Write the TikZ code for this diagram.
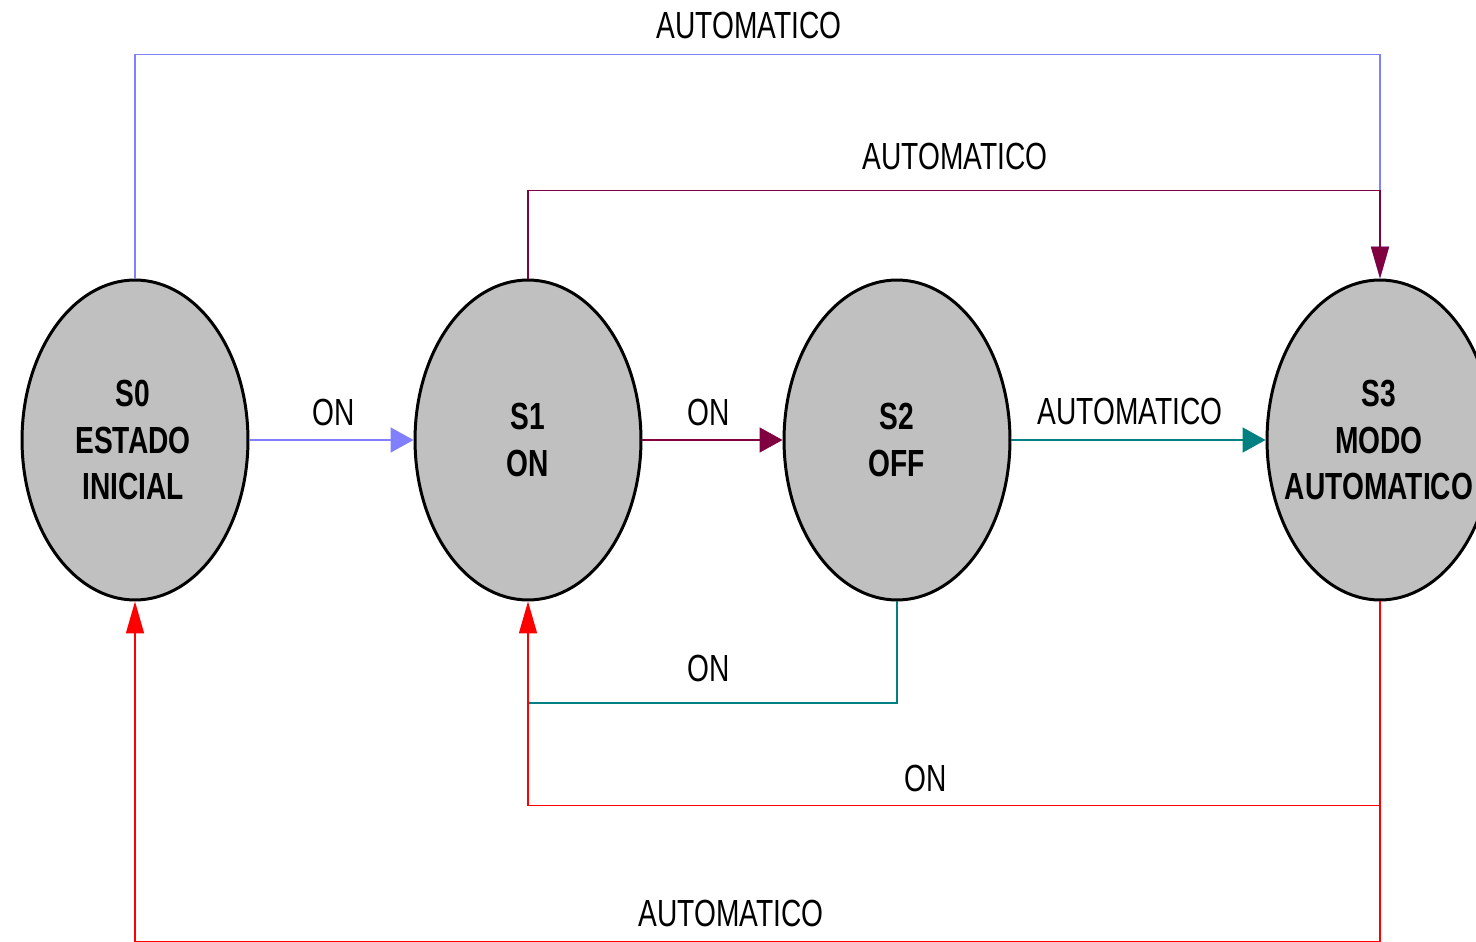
\documentclass[tikz,border=0pt]{standalone}
\usepackage{fontspec}
\setmainfont{Liberation Sans}[FakeStretch=0.745]
\usetikzlibrary{shapes.geometric,arrows.meta}
\definecolor{cblue}{HTML}{8080FF}
\definecolor{cmaroon}{HTML}{800040}
\definecolor{cteal}{HTML}{008080}
\definecolor{cred}{HTML}{FF0000}
\definecolor{cgray}{HTML}{C0C0C0}
\begin{document}
\begin{tikzpicture}[x=0.02cm,y=-0.02cm,
 state/.style={ellipse,draw=black,fill=cgray,line width=1.7pt,minimum width=4.52cm,minimum height=6.4cm,inner sep=0pt},
 stext/.style={align=center,font=\bfseries\fontsize{21.5pt}{26.7pt}\selectfont,inner sep=0pt},
 lbl/.style={font=\fontsize{21.5pt}{26pt}\selectfont,inner sep=0pt},
 conn/.style={line width=0.9pt},
 harrow/.style={-{Triangle[length=0.46cm,width=0.5cm]}},
 varrow/.style={-{Triangle[length=0.64cm,width=0.36cm]}},
]
\clip (0,0) rectangle (1476,942);
\node[state] (s0) at (135,440) {};
\node[state] (s1) at (528,440) {};
\node[state] (s2) at (897,440) {};
\node[state] (s3) at (1380,440) {};
\node[stext] (t0) at (133,440) {S0\\ESTADO\\INICIAL};
\node[stext] (t1) at (528,440) {S1\\ON};
\node[stext] (t2) at (897,440) {S2\\OFF};
\node[stext] (t3) at (1379,440) {S3\\MODO\\AUTOMATICO};
% connectors
\draw[conn,cblue,varrow] (s0.north) -- ++(0,-224) -| (s3.north);
\draw[conn,cmaroon,varrow] (s1.north) -- ++(0,-88) -| (s3.north);
\draw[conn,cblue,harrow] (s0.east) -- (s1.west);
\draw[conn,cmaroon,harrow] (s1.east) -- (s2.west);
\draw[conn,cteal,harrow] (s2.east) -- (s3.west);
\coordinate (j1) at (528,703);
\draw[conn,cteal] (s2.south) |- (j1);
\draw[conn,cred,varrow] (s3.south) -- ++(0,204) -| (s1.south);
\draw[conn,cred,varrow] (s3.south) -- ++(0,340.3) -| (s0.south);
% labels
\node[lbl] (l1) at (749,26) {AUTOMATICO};
\node[lbl] (l2) at (955,156) {AUTOMATICO};
\node[lbl] (l3) at (334,412) {ON};
\node[lbl] (l4) at (709,412) {ON};
\node[lbl] (l5) at (1130,411) {AUTOMATICO};
\node[lbl] (l6) at (709,668) {ON};
\node[lbl] (l7) at (926,778) {ON};
\node[lbl] (l8) at (731,913) {AUTOMATICO};
\end{tikzpicture}
\end{document}
